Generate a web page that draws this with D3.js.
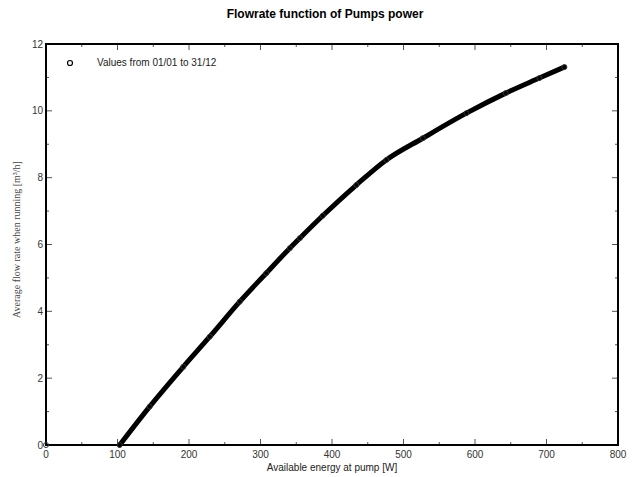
<!DOCTYPE html>
<html>
<head>
<meta charset="utf-8">
<script src="https://cdn.jsdelivr.net/npm/d3@7"></script>
<style>
  body { margin: 0; background: #fff; }
  text { font-family: "Liberation Sans", Arial, sans-serif; }
</style>
</head>
<body>
<script>
// pump power [W] vs average flow rate [m3/h]
const power = [0, 103, 145, 192, 229, 271, 308, 341, 355, 387, 434, 476, 527, 588, 643, 690, 725]
const flow = [0, 0, 1.15, 2.34, 3.24, 4.29, 5.14, 5.89, 6.19, 6.86, 7.78, 8.53, 9.18, 9.93, 10.53, 10.98, 11.31]
const xTicks = [0, 100, 200, 300, 400, 500, 600, 700, 800]
const yTicks = [0, 2, 4, 6, 8, 10, 12]

const width = 632,
  height = 477,
  margin = { top: 44, bottom: 32, right: 14, left: 46 }

const pts = power.map((p, i) => ({ x: p, y: flow[i] }))

const svg = d3.select('body').append('svg')
  .attr('width', width)
  .attr('height', height)

const xScale = d3.scaleLinear().domain([0, 800]).range([margin.left, width - margin.right])
const yScale = d3.scaleLinear().domain([0, 12]).range([height - margin.bottom, margin.top])

// title
svg.append('text')
  .attr('x', 325).attr('y', 18)
  .attr('text-anchor', 'middle')
  .style('font-size', '12px').style('font-weight', 'bold')
  .text('Flowrate function of Pumps power')

// ticks, major inward and minor halves
const minorX = d3.range(50, 800, 100)
const minorY = d3.range(1, 12, 2)
const tk = svg.append('g').attr('stroke', '#555').attr('stroke-width', 1)
const y0 = yScale(0), y1 = yScale(12), x0 = xScale(0), x1 = xScale(800)
xTicks.forEach((t) => {
  tk.append('line').attr('x1', xScale(t)).attr('x2', xScale(t)).attr('y1', y0).attr('y2', y0 - 6)
  tk.append('line').attr('x1', xScale(t)).attr('x2', xScale(t)).attr('y1', y1).attr('y2', y1 + 6)
})
minorX.forEach((t) => {
  tk.append('line').attr('x1', xScale(t)).attr('x2', xScale(t)).attr('y1', y0).attr('y2', y0 - 3)
  tk.append('line').attr('x1', xScale(t)).attr('x2', xScale(t)).attr('y1', y1).attr('y2', y1 + 3)
})
yTicks.forEach((t) => {
  tk.append('line').attr('y1', yScale(t)).attr('y2', yScale(t)).attr('x1', x0).attr('x2', x0 + 6)
  tk.append('line').attr('y1', yScale(t)).attr('y2', yScale(t)).attr('x1', x1).attr('x2', x1 - 6)
})
minorY.forEach((t) => {
  tk.append('line').attr('y1', yScale(t)).attr('y2', yScale(t)).attr('x1', x0).attr('x2', x0 + 3)
  tk.append('line').attr('y1', yScale(t)).attr('y2', yScale(t)).attr('x1', x1).attr('x2', x1 - 3)
})

// frame
svg.append('rect')
  .attr('x', x0).attr('y', y1)
  .attr('width', x1 - x0).attr('height', y0 - y1)
  .attr('fill', 'none').attr('stroke', '#000').attr('stroke-width', 2)

// tick labels
svg.append('g').selectAll('text').data(xTicks).enter().append('text')
  .attr('x', (d) => xScale(d)).attr('y', y0 + 13)
  .attr('text-anchor', 'middle')
  .style('font-size', '10px').attr('fill', '#333')
  .text((d) => d)
svg.append('g').selectAll('text').data(yTicks).enter().append('text')
  .attr('x', x0 - 3).attr('y', (d) => yScale(d) + 3.5)
  .attr('text-anchor', 'end')
  .style('font-size', '10px').attr('fill', '#333')
  .text((d) => d)

// axis titles
svg.append('text')
  .attr('x', (x0 + x1) / 2).attr('y', 471)
  .attr('text-anchor', 'middle')
  .style('font-size', '10px').attr('fill', '#222')
  .text('Available energy at pump [W]')
svg.append('text')
  .attr('transform', `translate(20,${(y0 + y1) / 2 - 5}) rotate(-90)`)
  .attr('text-anchor', 'middle')
  .style('font-family', '"Liberation Serif", "Times New Roman", serif')
  .style('font-size', '10px').attr('fill', '#444')
  .text('Average flow rate when running [m³/h]')

// the data: dense markers look like a thick line
const running = pts.filter((d) => d.x > 0)
const line = d3.line()
  .x((d) => xScale(d.x))
  .y((d) => yScale(d.y))
  .curve(d3.curveMonotoneX)
svg.append('path')
  .datum(running)
  .attr('d', line)
  .attr('fill', 'none').attr('stroke', '#000')
  .attr('stroke-width', 5).attr('stroke-linecap', 'round')

svg.append('g').selectAll('circle').data(pts).enter().append('circle')
  .attr('cx', (d) => xScale(d.x)).attr('cy', (d) => yScale(d.y))
  .attr('r', 2.5)
  .attr('fill', 'none').attr('stroke', '#333').attr('stroke-width', 1)

// legend
svg.append('circle')
  .attr('cx', 70).attr('cy', 63).attr('r', 2.5)
  .attr('fill', 'none').attr('stroke', '#000').attr('stroke-width', 1.2)
svg.append('text')
  .attr('x', 97).attr('y', 66)
  .style('font-size', '10px').attr('fill', '#222')
  .text('Values from 01/01 to 31/12')
</script>
</body>
</html>
